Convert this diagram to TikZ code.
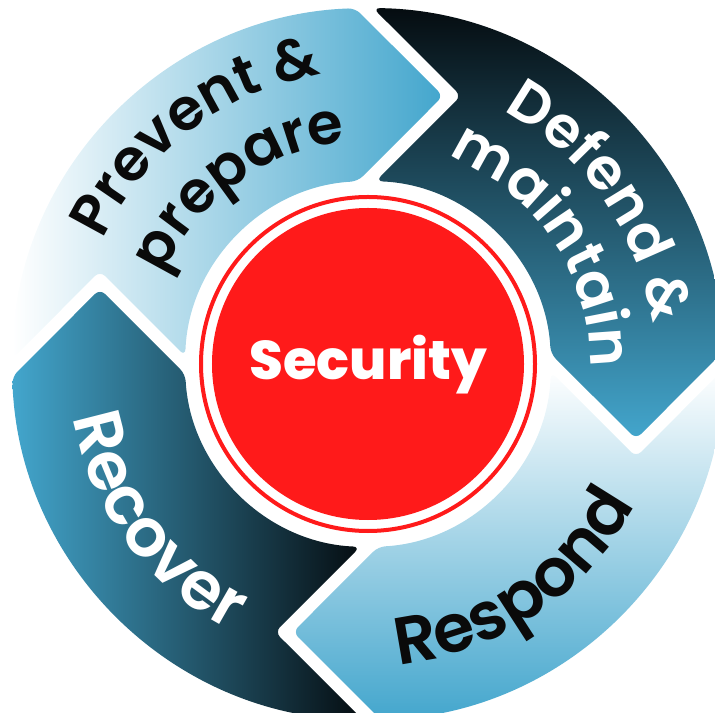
\documentclass[tikz,border=0pt]{standalone}
\usepackage{fontspec}
\setmainfont{Poppins}
\newfontfamily\labfont{Poppins SemiBold}
\newfontfamily\secfont{Poppins ExtraBold}
\usetikzlibrary{decorations.text}
\definecolor{segblue}{RGB}{67,166,205}
\definecolor{segdark}{RGB}{5,12,16}
\definecolor{secred}{RGB}{255,26,26}
\definecolor{labblack}{RGB}{10,10,10}

\begin{document}
\begin{tikzpicture}[x=0.02cm, y=0.02cm,
    seg/.style={rounded corners=4pt},
    lab/.style={decorate, decoration={text along path, text align=center, text={#1}}}
  ]
  \useasboundingbox (-368,-348) rectangle (347,364);
  \clip (-368,-348) rectangle (347,364);

  % the four arrow segments
  \shade[seg, left color=white, right color=segblue]
    (179.19:356) arc[start angle=179.19, end angle=92.06, radius=356] -- (75,268)
    -- (93.22:183) arc[start angle=93.22, end angle=177.55, radius=183] -- (-268,93) -- cycle;
  \shade[seg, top color=segdark, bottom color=segblue]
    (89.19:356) arc[start angle=89.19, end angle=2.06, radius=356] -- (268,-75)
    -- (3.22:183) arc[start angle=3.22, end angle=87.55, radius=183] -- (93,268) -- cycle;
  \shade[seg, top color=white, bottom color=segblue]
    (-0.81:356) arc[start angle=-0.81, end angle=-87.94, radius=356] -- (-75,-268)
    -- (-86.78:183) arc[start angle=-86.78, end angle=-2.45, radius=183] -- (268,-93) -- cycle;
  \shade[seg, left color=segblue, right color=segdark]
    (-90.81:356) arc[start angle=-90.81, end angle=-177.94, radius=356] -- (-268,75)
    -- (-176.78:183) arc[start angle=-176.78, end angle=-92.45, radius=183] -- (-93,-268) -- cycle;

  % centre
  \draw[secred, line width=0.08cm] (0,0) circle[radius=167];
  \fill[secred] (0,0) circle[radius=156];
  \node[text=white, font=\secfont\fontsize{31}{38}\selectfont, anchor=base] (sec) at (0,-16) {Security};

  % labels
  \path[lab={|\labfont\fontsize{33}{40}\selectfont\color{labblack}|Prevent {\&}}]
    (177:293) arc[start angle=177, end angle=77, radius=293];
  \path[lab={|\labfont\fontsize{33}{40}\selectfont\color{labblack}|prepare}]
    (176:223) arc[start angle=176, end angle=76, radius=223];
  \path[lab={|\labfont\fontsize{33}{40}\selectfont\color{white}|Defend {\&}}]
    (85:287) arc[start angle=85, end angle=-15, radius=287];
  \path[lab={|\labfont\fontsize{33}{40}\selectfont\color{white}|maintain}]
    (84:222) arc[start angle=84, end angle=-16, radius=222];
  \path[lab={|\labfont\fontsize{38}{46}\selectfont\color{labblack}|Respond}]
    (-106:302) arc[start angle=-106, end angle=-6, radius=302];
  \path[lab={|\labfont\fontsize{38}{46}\selectfont\color{white}|Recover}]
    (166.5:300) arc[start angle=166.5, end angle=266.5, radius=300];
\end{tikzpicture}
\end{document}
